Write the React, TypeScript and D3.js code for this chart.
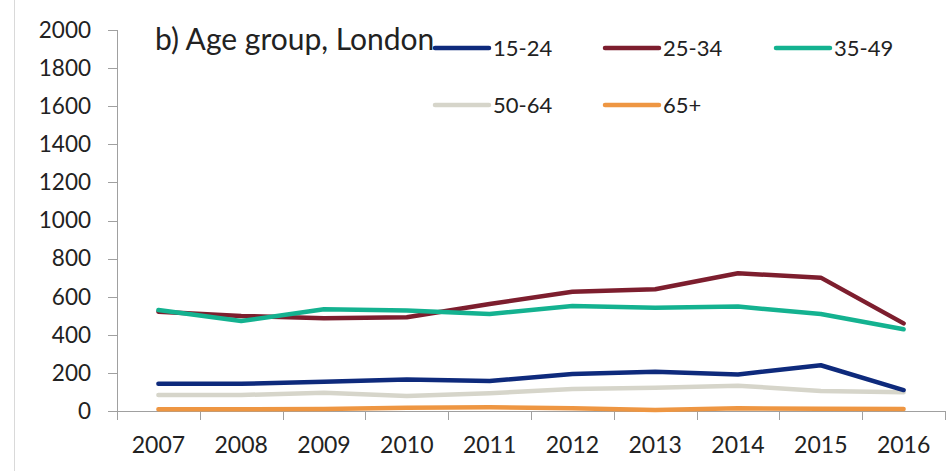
import React from "react";
import * as d3 from "d3";

const years = ["2007","2008","2009","2010","2011","2012","2013","2014","2015","2016"];
const s1524 = [143,143,154,166,157,194,206,192,240,110];
const s2534 = [521,499,487,492,562,626,639,723,700,460];
const s3549 = [530,472,534,527,509,551,542,548,509,429];
const s5064 = [84,84,96,79,93,115,122,133,105,98];
const s65p = [9,9,10,17,20,14,5,14,12,10];
const yTicks = [0,200,400,600,800,1000,1200,1400,1600,1800,2000];
const seriesNames = ["15-24","25-34","35-49","50-64","65+"];
const seriesData = [s1524, s2534, s3549, s5064, s65p];
const colors = ["#0E2A7C","#7D1E2E","#14B290","#D6D5CA","#EE9642"];

const W = 952, H = 471;
const FONT = "Lato, 'Open Sans', sans-serif";

export default function App() {
  const x = d3.scaleBand<string>().domain(years).range([117, 945]);
  const y = d3.scaleLinear().domain([0, 2000]).range([411, 30]);
  const line = d3.line<number>()
    .x((_, i) => (x(years[i]) as number) + x.bandwidth() / 2)
    .y((d) => y(d));
  const order = [4, 3, 0, 1, 2];
  const legendPos = [
    { x: 435, y: 48 }, { x: 605, y: 48 }, { x: 776, y: 48 },
    { x: 435, y: 105 }, { x: 605, y: 105 },
  ];
  const ticksX = years.map((yr) => x(yr) as number).concat([945]);
  return (
    <svg width={W} height={H} style={{ position: "absolute", left: 0, top: 0, background: "#fff" }}>
      <line x1={14.5} x2={14.5} y1={0} y2={H} stroke="#D9D9D9" strokeWidth={1} />
      <line x1={117.5} x2={117.5} y1={30} y2={411} stroke="#A0A0A0" />
      {yTicks.map((t) => (
        <g key={t}>
          <line x1={108} x2={117} y1={Math.round(y(t)) + 0.5} y2={Math.round(y(t)) + 0.5} stroke="#A0A0A0" />
          <text x={91} y={y(t)} dy="0.35em" textAnchor="end" fontFamily={FONT} fontSize={22.5} fill="#222">{t}</text>
        </g>
      ))}
      <line x1={117} x2={945} y1={411.5} y2={411.5} stroke="#A0A0A0" />
      {ticksX.map((tx, i) => (
        <line key={i} x1={Math.round(tx) + 0.5} x2={Math.round(tx) + 0.5} y1={411} y2={420} stroke="#A0A0A0" />
      ))}
      {years.map((yr) => (
        <text key={yr} x={(x(yr) as number) + x.bandwidth() / 2} y={453} textAnchor="middle" fontFamily={FONT} fontSize={23} fill="#222">{yr}</text>
      ))}
      {order.map((k) => (
        <path key={k} d={line(seriesData[k]) as string} fill="none" stroke={colors[k]} strokeWidth={4.5} strokeLinejoin="round" strokeLinecap="round" />
      ))}
      <text x={155} y={50} fontFamily={FONT} fontSize={30} fill="#222">b) Age group, London</text>
      {seriesNames.map((n, k) => (
        <g key={n}>
          <line x1={legendPos[k].x} x2={legendPos[k].x + 54} y1={legendPos[k].y} y2={legendPos[k].y} stroke={colors[k]} strokeWidth={4.5} strokeLinecap="round" />
          <text x={legendPos[k].x + 58} y={legendPos[k].y} dy="0.35em" fontFamily={FONT} fontSize={22} fill="#222">{n}</text>
        </g>
      ))}
    </svg>
  );
}
